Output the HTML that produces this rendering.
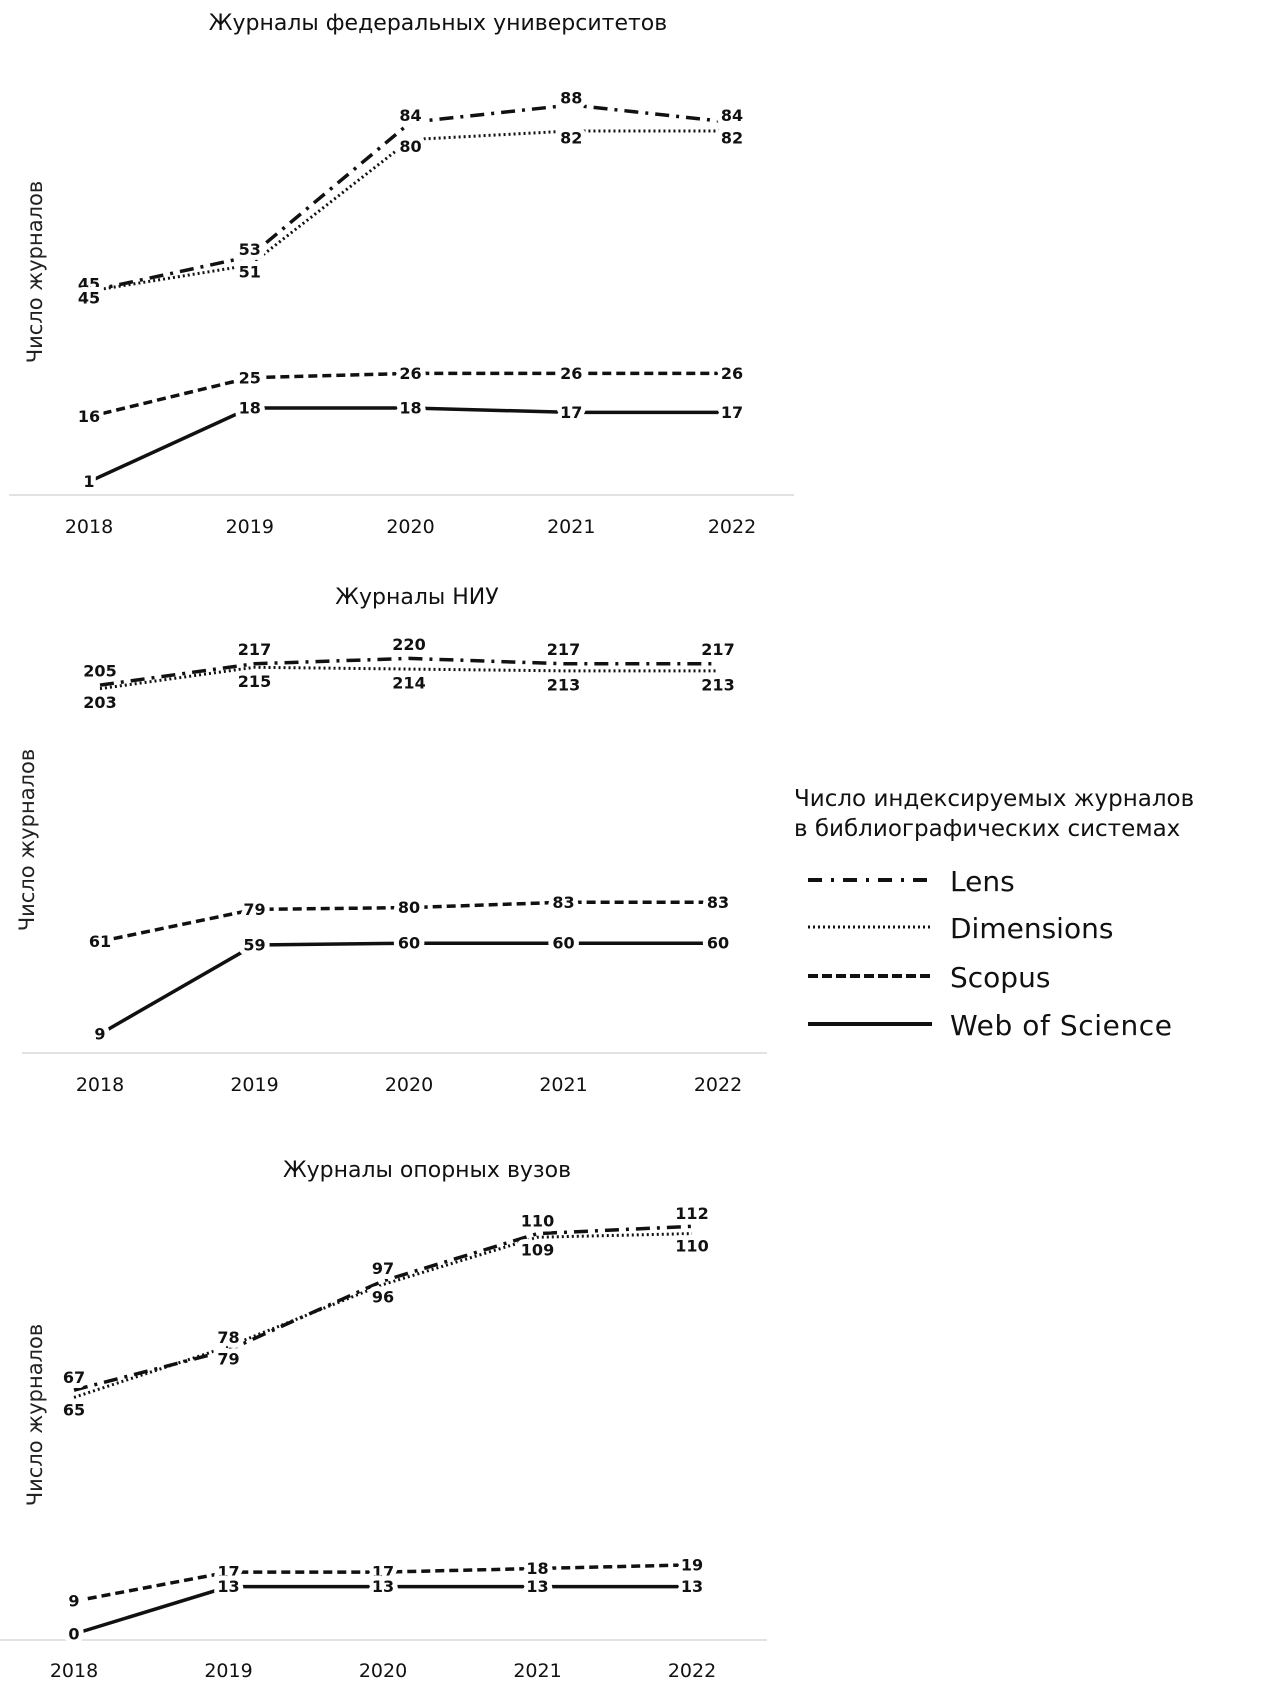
<!DOCTYPE html>
<html><head><meta charset="utf-8">
<style>
html,body{margin:0;padding:0;background:#fff;}
svg{display:block;}
text{font-family:"DejaVu Sans","Liberation Sans",sans-serif;fill:#111;}
.lbl{font-weight:bold;font-size:16px;stroke:#fff;stroke-width:10px;paint-order:stroke;stroke-linejoin:round;text-anchor:middle;dominant-baseline:central;}
.yr{font-size:19px;text-anchor:middle;}
.ttl{font-size:22px;text-anchor:middle;}
.yt{font-size:21px;text-anchor:middle;fill:#222;}
</style></head>
<body>
<svg id="c" width="1262" height="1695" viewBox="0 0 1262 1695" xmlns="http://www.w3.org/2000/svg">
<g>
<text x="794" y="806" font-size="23">Число индексируемых журналов</text>
<text x="794" y="836" font-size="23">в библиографических системах</text>
<line x1="808" y1="880" x2="932" y2="880" stroke="#111" stroke-width="4" stroke-dasharray="14,9,3,9"/>
<text x="950" y="891" font-size="28">Lens</text>
<line x1="808" y1="927" x2="932" y2="927" stroke="#111" stroke-width="3" stroke-dasharray="2,3"/>
<text x="950" y="938" font-size="28">Dimensions</text>
<line x1="808" y1="976" x2="932" y2="976" stroke="#111" stroke-width="4" stroke-dasharray="10,4"/>
<text x="950" y="987" font-size="28">Scopus</text>
<line x1="808" y1="1024" x2="932" y2="1024" stroke="#111" stroke-width="4"/>
<text x="950" y="1035" font-size="28" textLength="222">Web of Science</text>
</g>
</svg>
<script>
const years = ["2018","2019","2020","2021","2022"];
const seriesNames = ["Lens","Dimensions","Scopus","Web of Science"];
const fedLens = [45,53,84,88,84];
const fedDims = [45,51,80,82,82];
const fedScopus = [16,25,26,26,26];
const fedWos = [1,18,18,17,17];
const niuLens = [205,217,220,217,217];
const niuDims = [203,215,214,213,213];
const niuScopus = [61,79,80,83,83];
const niuWos = [9,59,60,60,60];
const opLens = [67,78,97,110,112];
const opDims = [65,79,96,109,110];
const opScopus = [9,17,17,18,19];
const opWos = [0,13,13,13,13];

const NS = "http://www.w3.org/2000/svg";
const svg = document.getElementById('c');
const styles = [
  {dash:"14,7,3,7", w:3.5, key:"lens", dy:-7},
  {dash:"2,3", w:3, key:"dimensions", dy:7},
  {dash:"9,5", w:3.5, key:"scopus", dy:0},
  {dash:"", w:3.5, key:"wos", dy:0}
];
function mk(tag, attrs){const e=document.createElementNS(NS,tag);for(const k in attrs)e.setAttribute(k,attrs[k]);return e;}

function drawChart(cfg, series){
  const g = mk('g',{});
  
  
  svg.appendChild(g);
  const xScale = i => cfg.x0 + i*cfg.dx;
  const yScale = v => cfg.y0 - v*cfg.k;
  const t = mk('text',{x:cfg.tx,y:cfg.ty,class:'ttl'}); t.textContent = cfg.title;
  
  
  g.appendChild(t);
  const yt = mk('text',{x:0,y:0,class:'yt',transform:`translate(${cfg.ytx},${cfg.yty}) rotate(-90)`}); yt.textContent = "Число журналов";
  
  
  g.appendChild(yt);
  const ax = mk('line',{x1:cfg.ax1,x2:cfg.ax2,y1:cfg.axy,y2:cfg.axy,stroke:'#e2e2e2','stroke-width':2});
  
  
  g.appendChild(ax);
  years.forEach((y,i)=>{
    const tt = mk('text',{x:xScale(i),y:cfg.yry,class:'yr'}); tt.textContent = y;
    
    
    g.appendChild(tt);
  });
  series.forEach((vals,si)=>{
    const s = styles[si];
    const pts = vals.map((v,i)=>xScale(i)+','+yScale(v)).join(' ');
    const pl = mk('polyline',{points:pts,fill:'none',stroke:'#111','stroke-width':s.w});
    if(s.dash) pl.setAttribute('stroke-dasharray', s.dash);
    
    
    g.appendChild(pl);
  });
  series.forEach((vals,si)=>{
    const s = styles[si];
    vals.forEach((v,i)=>{
      const dy = si<2 ? s.dy*cfg.sep : 0;
      const l = mk('text',{x:xScale(i),y:yScale(v)+dy,class:'lbl'}); l.textContent = v;
      
      
      g.appendChild(l);
    });
  });
}

drawChart({name:'chart-federal',title:'Журналы федеральных университетов',tx:438,ty:30,
  ytx:42,yty:272,ax1:9,ax2:794,axy:495,yry:533,x0:89,dx:160.75,y0:486,k:4.33,sep:1},
  [fedLens,fedDims,fedScopus,fedWos]);
drawChart({name:'chart-niu',title:'Журналы НИУ',tx:417,ty:604,
  ytx:34,yty:840,ax1:22,ax2:767,axy:1053,yry:1091,x0:100,dx:154.5,y0:1050,k:1.78,sep:2},
  [niuLens,niuDims,niuScopus,niuWos]);
drawChart({name:'chart-opornye',title:'Журналы опорных вузов',tx:427,ty:1177,
  ytx:42,yty:1415,ax1:0,ax2:767,axy:1640,yry:1677,x0:74,dx:154.5,y0:1634,k:3.64,sep:1.8},
  [opLens,opDims,opScopus,opWos]);
</script>
</body></html>
